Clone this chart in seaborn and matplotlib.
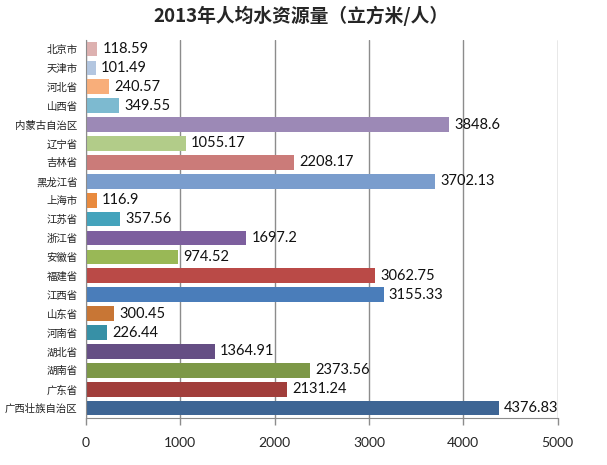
import pandas as pd
import matplotlib
matplotlib.use('Agg')
import matplotlib.pyplot as plt
import seaborn as sns

# %% Data
provinces = ['北京市', '天津市', '河北省', '山西省', '内蒙古自治区', '辽宁省', '吉林省', '黑龙江省',
             '上海市', '江苏省', '浙江省', '安徽省', '福建省', '江西省', '山东省', '河南省',
             '湖北省', '湖南省', '广东省', '广西壮族自治区']
water = [118.59, 101.49, 240.57, 349.55, 3848.6, 1055.17, 2208.17, 3702.13,
         116.9, 357.56, 1697.2, 974.52, 3062.75, 3155.33, 300.45, 226.44,
         1364.91, 2373.56, 2131.24, 4376.83]
labels = ['118.59', '101.49', '240.57', '349.55', '3848.6', '1055.17', '2208.17', '3702.13',
          '116.9', '357.56', '1697.2', '974.52', '3062.75', '3155.33', '300.45', '226.44',
          '1364.91', '2373.56', '2131.24', '4376.83']
colors = ['#DDB1B0', '#B3C6E0', '#F8AE7A', '#7DBAD0', '#9C89B6', '#B2CC89', '#CB7B79', '#7A9DCD',
          '#E98A3E', '#44A3BC', '#7D5F9E', '#99B856', '#BA4A47', '#4A7DBA', '#C87635', '#3790A6',
          '#654E84', '#7D9847', '#A13E3B', '#3E6594']

df = pd.DataFrame({'province': provinces, 'water': water})

# %% Plot
sns.set_style('white')
plt.rcParams['font.family'] = ['Noto Sans CJK SC', 'DejaVu Sans']
num_font = ['Lato', 'DejaVu Sans']

fig = plt.figure(figsize=(6.07, 4.65), dpi=100)
ax = fig.add_axes([0.1417, 0.102, 0.777, 0.813])

sns.barplot(data=df, y='province', x='water', hue='province', palette=colors,
            legend=False, width=0.78, saturation=1, orient='h', linewidth=0, ax=ax)

for i, (v, t) in enumerate(zip(water, labels)):
    ax.text(v + 55, i, t, va='center', ha='left', fontsize=10.5, color='#111111', family=num_font)

ax.set_xlim(0, 5000)
ax.set_xticks([0, 1000, 2000, 3000, 4000, 5000])
ax.set_xticklabels(['0', '1000', '2000', '3000', '4000', '5000'], fontsize=10, family=num_font)
ax.xaxis.grid(True, color='#8C8C8C', linewidth=1)
ax.set_axisbelow(True)
ax.set_xlabel('')
ax.set_ylabel('')
ax.tick_params(axis='x', direction='out', length=5, width=1, color='#8C8C8C', pad=9, bottom=True)
ax.tick_params(axis='y', length=0, labelsize=7.5, pad=6, labelcolor='#222222')
for s in ['top', 'right']:
    ax.spines[s].set_visible(False)
ax.spines['left'].set_color('#8C8C8C')
ax.spines['bottom'].set_color('#8C8C8C')

fig.suptitle('2013年人均水资源量（立方米/人）', x=0.496, y=0.987, fontsize=13.5, fontweight='bold')

plt.savefig('out.png', dpi=100)
plt.close()
